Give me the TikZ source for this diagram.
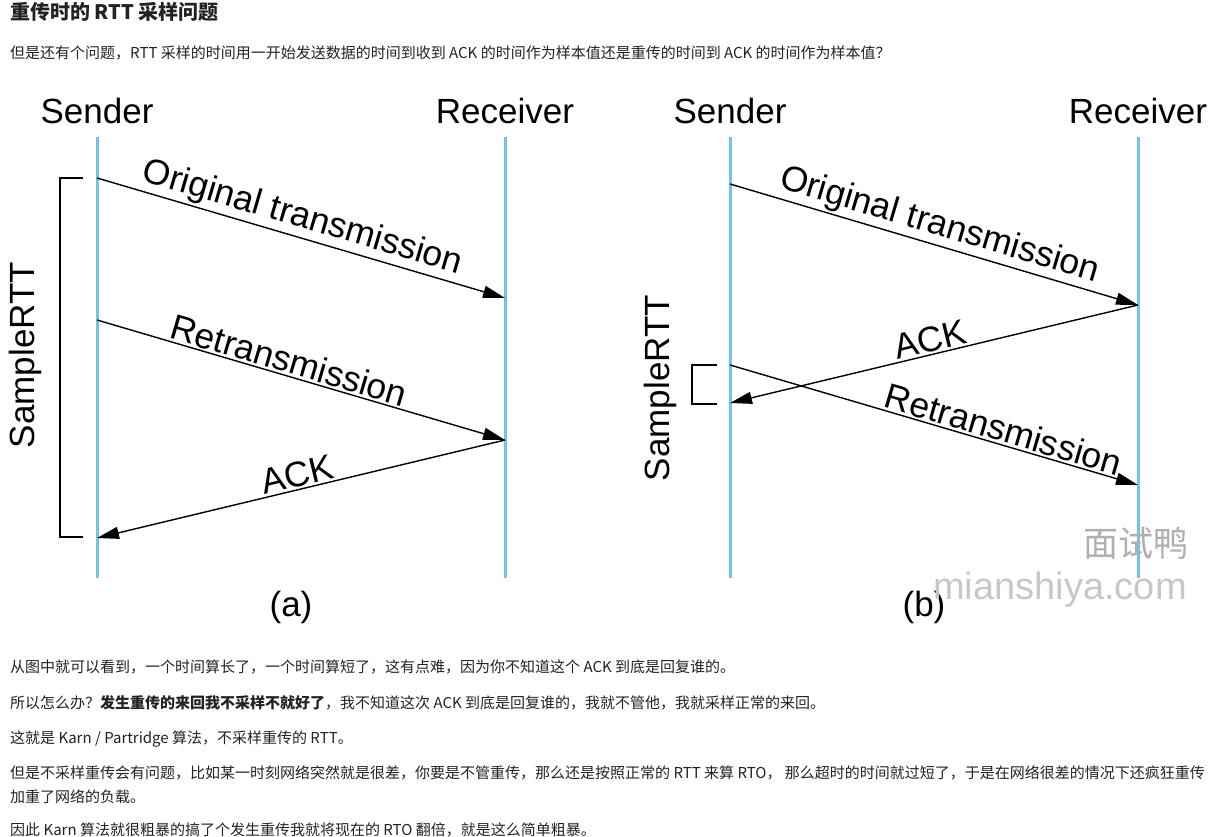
\documentclass[tikz,border=0pt]{standalone}
\usepackage{fontspec}
\setmainfont{Liberation Sans}
\newfontfamily\cjk{Noto Sans CJK SC}
\usetikzlibrary{arrows.meta}
\definecolor{lifeblue}{RGB}{110,197,230}
\definecolor{bodytext}{RGB}{34,34,34}
\definecolor{wmgray}{RGB}{175,175,175}

\begin{document}
\begin{tikzpicture}[x=1pt, y=-1pt,
  life/.style={draw=lifeblue, line width=3pt},
  msg/.style={-{Triangle[length=22pt, width=12pt]}, line width=1.4pt},
  lbl/.style={sloped, above, font=\fontsize{35.5}{36}\selectfont, inner sep=2pt},
  big/.style={font=\fontsize{35}{35}\selectfont, inner sep=0pt},
  para/.style={anchor=west, font=\cjk\fontsize{15}{18}\selectfont, text=bodytext, inner sep=0pt},
  brk/.style={line width=1.4pt}
]
\useasboundingbox (0,0) rectangle (1217,837);

% text above the figure
\node[para, font=\cjk\bfseries\fontsize{20}{22}\selectfont] (title) at (10,12) {重传时的 RTT 采样问题};
\node[para] (intro) at (10,53) {但是还有个问题，RTT 采样的时间用一开始发送数据的时间到收到 ACK 的时间作为样本值还是重传的时间到 ACK 的时间作为样本值？};

% (a)
\node[big] (senda) at (97,111) {Sender};
\node[big] (recva) at (505,111) {Receiver};
\coordinate (sta) at (97,137);  \coordinate (sba) at (97,578);
\coordinate (rta) at (505,137); \coordinate (rba) at (505,578);
\draw[life] (sta) -- (sba);
\draw[life] (rta) -- (rba);
\coordinate (a1) at (97,178);  \coordinate (a2) at (505,298);
\coordinate (a3) at (97,320);  \coordinate (a4) at (505,440);
\coordinate (a5) at (97,538);
\draw[msg] (a1) -- node[lbl, pos=0.49]{Original transmission} (a2);
\draw[msg] (a3) -- node[lbl, pos=0.46]{Retransmission} (a4);
\draw[msg] (a4) -- node[lbl]{ACK} (a5);
\draw[brk] (83,178) -- (60,178) -- (60,537) -- (83,537);
\node[big, rotate=90] (rtta) at (25,355) {SampleRTT};
\node[big] (capa) at (291,607) {(a)};

% (b)
\node[big] (sendb) at (730,111) {Sender};
\node[big] (recvb) at (1138,111) {Receiver};
\coordinate (stb) at (730,137);  \coordinate (sbb) at (730,578);
\coordinate (rtb) at (1138,137); \coordinate (rbb) at (1138,578);
\draw[life] (stb) -- (sbb);
\draw[life] (rtb) -- (rbb);
\coordinate (b1) at (730,184);  \coordinate (b2) at (1138,305);
\coordinate (b3) at (730,403);
\coordinate (b4) at (730,365);  \coordinate (b5) at (1138,485);
\draw[msg] (b1) -- node[lbl]{Original transmission} (b2);
\draw[msg] (b2) -- node[lbl]{ACK} (b3);
\draw[msg] (b4) -- node[lbl, pos=0.66]{Retransmission} (b5);
\draw[brk] (717,365) -- (692,365) -- (692,404) -- (717,404);
\node[big, rotate=90] (rttb) at (660,388) {SampleRTT};
\node[big] (capb) at (924,607) {(b)};

% watermark
\node[text=wmgray, font=\cjk\fontsize{35}{35}\selectfont] (wm1) at (1136,543) {面试鸭};
\node[text=wmgray!70, font=\fontsize{38}{38}\selectfont] (wm2) at (1060,590) {mianshiya.com};

% text below the figure
\node[para] (p1) at (10,667) {从图中就可以看到，一个时间算长了，一个时间算短了，这有点难，因为你不知道这个 ACK 到底是回复谁的。};
\node[para] (p2) at (10,703) {所以怎么办？{\bfseries 发生重传的来回我不采样不就好了}，我不知道这次 ACK 到底是回复谁的，我就不管他，我就采样正常的来回。};
\node[para] (p3) at (10,739) {这就是 Karn / Partridge 算法，不采样重传的 RTT。};
\node[para] (p4) at (10,773) {但是不采样重传会有问题，比如某一时刻网络突然就是很差，你要是不管重传，那么还是按照正常的 RTT 来算 RTO， 那么超时的时间就过短了，于是在网络很差的情况下还疯狂重传};
\node[para] (p5) at (10,797) {加重了网络的负载。};
\node[para] (p6) at (10,830) {因此 Karn 算法就很粗暴的搞了个发生重传我就将现在的 RTO 翻倍，就是这么简单粗暴。};
\end{tikzpicture}
\end{document}
